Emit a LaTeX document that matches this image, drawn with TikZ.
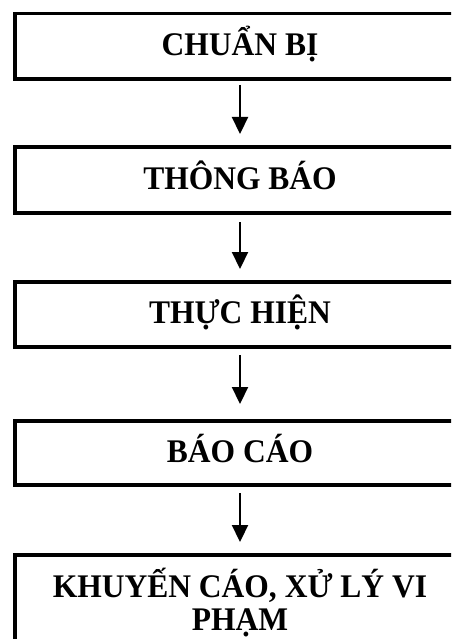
\documentclass[tikz,border=0pt]{standalone}
\usepackage{fontspec}
\setmainfont{Liberation Serif}
\newfontfamily\stagefont{Liberation Serif}[FakeStretch=0.955]
\usetikzlibrary{arrows.meta}
\begin{document}
\begin{tikzpicture}[x=1pt,y=-1pt,
  stage/.style={draw, line width=3.8pt, minimum width=450pt, inner sep=0pt,
    outer sep=0pt, align=center,
    font=\stagefont\fontsize{33}{33}\selectfont\bfseries},
  oneline/.style={text height=21.6pt, text depth=3pt},
  flow/.style={line width=2.2pt, -{Triangle[length=17pt,width=16pt]}}]
\useasboundingbox (0,0) rectangle (451,639);
\fill[white] (0,0) rectangle (451,639);
\clip (0,0) rectangle (451,639);

% process stages
\node[stage, oneline, minimum height=65.5pt] (b1) at (240,46.25) {CHUẨN BỊ};
\node[stage, oneline, minimum height=66pt]   (b2) at (240,180)   {THÔNG BÁO};
\node[stage, oneline, minimum height=65pt]   (b3) at (240,314.5) {THỰC HIỆN};
\node[stage, oneline, minimum height=64pt]   (b4) at (240,453)   {BÁO CÁO};
\node[stage, minimum height=96pt]   (b5) at (240,603)   {KHUYẾN CÁO, XỬ LÝ VI\\PHẠM};

% flow arrows
\draw[flow] ([yshift=-6pt]b1.south) -- ([yshift=13pt]b2.north);
\draw[flow] ([yshift=-9pt]b2.south) -- ([yshift=13pt]b3.north);
\draw[flow] ([yshift=-8pt]b3.south) -- ([yshift=17pt]b4.north);
\draw[flow] ([yshift=-8pt]b4.south) -- ([yshift=13pt]b5.north);
\end{tikzpicture}
\end{document}
